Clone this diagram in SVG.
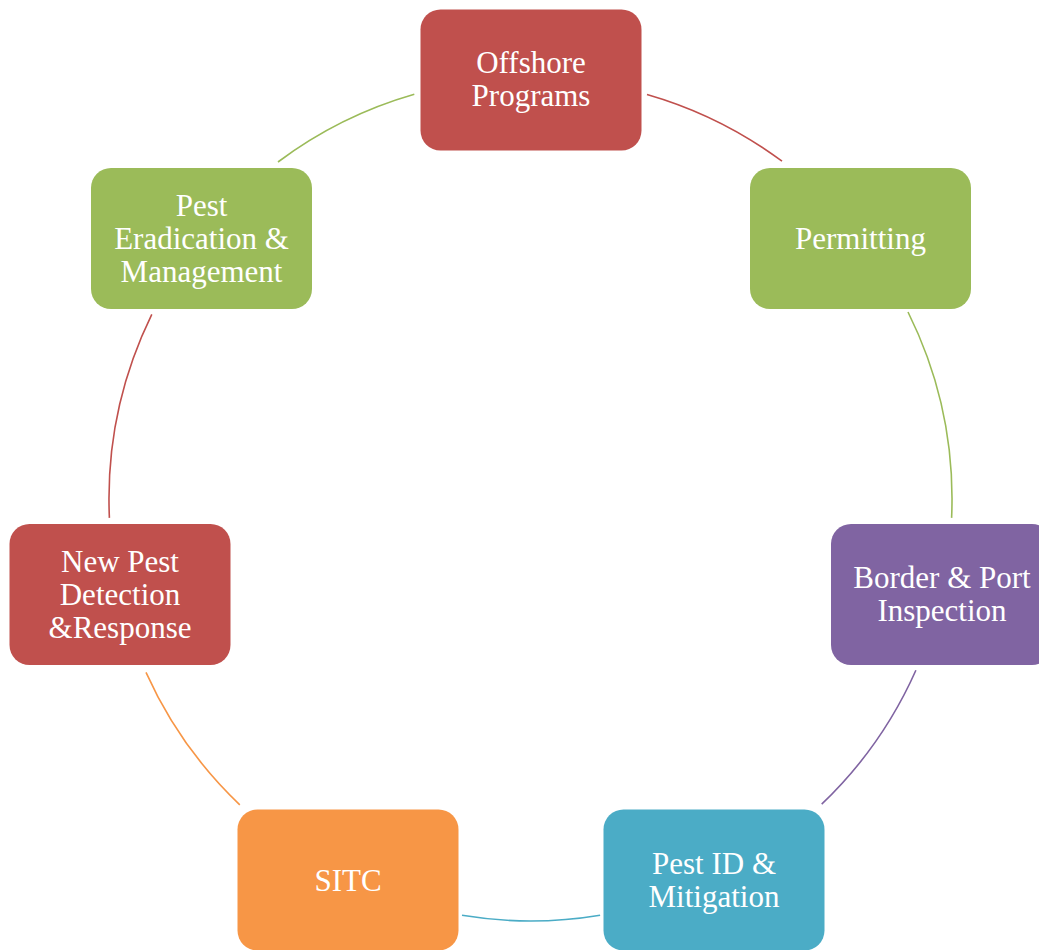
<svg xmlns="http://www.w3.org/2000/svg" width="1039" height="950" viewBox="0 0 1039 950">
<style>
.lbl{font-family:"Liberation Serif","Times New Roman",serif;font-size:31px;fill:#FFFFFF;text-anchor:middle}
.red{fill:#C0504D}.green{fill:#9BBB59}.purple{fill:#8064A2}.blue{fill:#4BACC6}.orange{fill:#F79646}
.arc{fill:none;stroke-width:1.6}
</style>
<rect width="1039" height="950" fill="#FFFFFF"/>
<g id="connectors">
<path class="arc" stroke="#C0504D" d="M647.0 94.4 A421.5 421.5 0 0 1 782.0 161.2"/>
<path class="arc" stroke="#9BBB59" d="M908.0 312.0 A421.5 421.5 0 0 1 951.6 517.9"/>
<path class="arc" stroke="#8064A2" d="M915.9 670.3 A421.5 421.5 0 0 1 821.7 804.2"/>
<path class="arc" stroke="#4BACC6" d="M600.1 915.2 A421.5 421.5 0 0 1 462.0 915.3"/>
<path class="arc" stroke="#F79646" d="M239.8 804.8 A421.5 421.5 0 0 1 146.0 672.3"/>
<path class="arc" stroke="#C0504D" d="M109.4 517.9 A421.5 421.5 0 0 1 151.8 314.4"/>
<path class="arc" stroke="#9BBB59" d="M278.0 162.0 A421.5 421.5 0 0 1 414.3 94.3"/>
</g>
<g id="offshore">
<rect class="red" x="420.5" y="9.5" width="221" height="141" rx="20"/>
<text class="lbl" x="531" y="72.5">Offshore</text>
<text class="lbl" x="531" y="106">Programs</text>
</g>
<g id="permitting">
<rect class="green" x="750" y="168" width="221" height="141" rx="20"/>
<text class="lbl" x="860.5" y="248.5">Permitting</text>
</g>
<g id="border">
<rect class="purple" x="831" y="524" width="221" height="141" rx="20"/>
<text class="lbl" x="942" y="588.3">Border &amp; Port</text>
<text class="lbl" x="942" y="621">Inspection</text>
</g>
<g id="pestid">
<rect class="blue" x="603.5" y="809.5" width="221" height="141" rx="20"/>
<text class="lbl" x="714" y="873.5">Pest ID &amp;</text>
<text class="lbl" x="714" y="907">Mitigation</text>
</g>
<g id="sitc">
<rect class="orange" x="237.5" y="809.5" width="221" height="141" rx="20"/>
<text class="lbl" x="348" y="890.5">SITC</text>
</g>
<g id="newpest">
<rect class="red" x="9.5" y="524" width="221" height="141" rx="20"/>
<text class="lbl" x="120" y="571.7">New Pest</text>
<text class="lbl" x="120" y="605">Detection</text>
<text class="lbl" x="120" y="638.3">&amp;Response</text>
</g>
<g id="pesterad">
<rect class="green" x="91" y="168" width="221" height="141" rx="20"/>
<text class="lbl" x="201.5" y="215.5">Pest</text>
<text class="lbl" x="201.5" y="248.8">Eradication &amp;</text>
<text class="lbl" x="201.5" y="282">Management</text>
</g>
</svg>
